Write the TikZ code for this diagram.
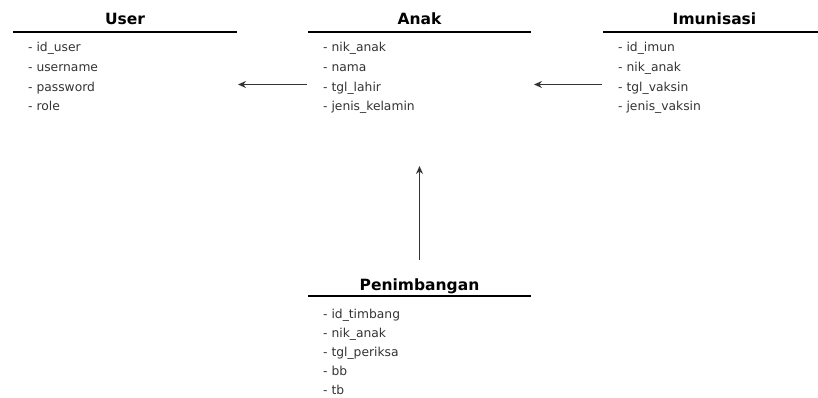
\documentclass[tikz,border=0pt]{standalone}
\usepackage{fontspec}
\setmainfont{DejaVu Sans}
\usetikzlibrary{arrows.meta}
\begin{document}
\begin{tikzpicture}[x=1pt,y=-1pt,
  classtitle/.style={font=\fontsize{15.5}{18}\selectfont\bfseries, anchor=base, inner sep=0pt},
  attr/.style={font=\fontsize{12.3}{14}\selectfont, anchor=base west, inner sep=0pt, text=black!80},
  rule/.style={line width=2pt},
  link/.style={line width=1.4pt, draw=black!80, -{Stealth[length=8pt,width=7pt]}}
]
\useasboundingbox (0,0) rectangle (818,398);

% User
\node[classtitle] (user) at (125,25) {User};
\coordinate (user-l) at (13,32);
\coordinate (user-r) at (237,32);
\draw[rule] (user-l) -- (user-r);
\node[attr] (user-1) at (28,52) {- id\_user};
\node[attr] (user-2) at (28,72) {- username};
\node[attr] (user-3) at (28,92) {- password};
\node[attr] (user-4) at (28,111) {- role};

% Anak
\node[classtitle] (anak) at (419.5,25) {Anak};
\coordinate (anak-l) at (308,32);
\coordinate (anak-r) at (531,32);
\draw[rule] (anak-l) -- (anak-r);
\node[attr] (anak-1) at (323,52) {- nik\_anak};
\node[attr] (anak-2) at (323,72) {- nama};
\node[attr] (anak-3) at (323,92) {- tgl\_lahir};
\node[attr] (anak-4) at (323,111) {- jenis\_kelamin};

% Imunisasi
\node[classtitle] (imun) at (714.5,25) {Imunisasi};
\coordinate (imun-l) at (603,32);
\coordinate (imun-r) at (826,32);
\draw[rule] (imun-l) -- (imun-r);
\node[attr] (imun-1) at (618,52) {- id\_imun};
\node[attr] (imun-2) at (618,72) {- nik\_anak};
\node[attr] (imun-3) at (618,92) {- tgl\_vaksin};
\node[attr] (imun-4) at (618,111) {- jenis\_vaksin};

% Penimbangan
\node[classtitle] (timb) at (419.5,290) {Penimbangan};
\coordinate (timb-l) at (308,296);
\coordinate (timb-r) at (531,296);
\draw[rule] (timb-l) -- (timb-r);
\node[attr] (timb-1) at (323,318) {- id\_timbang};
\node[attr] (timb-2) at (323,337) {- nik\_anak};
\node[attr] (timb-3) at (323,356) {- tgl\_periksa};
\node[attr] (timb-4) at (323,375) {- bb};
\node[attr] (timb-5) at (323,394) {- tb};

% Relations
\coordinate (anak-out) at (307,84.5);
\coordinate (user-in) at (238,84.5);
\coordinate (imun-out) at (602,84.5);
\coordinate (anak-in-r) at (534,84.5);
\coordinate (timb-out) at (419.5,260);
\coordinate (anak-in-b) at (419.5,166);
\draw[link] (anak-out) -- (user-in);
\draw[link] (imun-out) -- (anak-in-r);
\draw[link] (timb-out) -- (anak-in-b);
\end{tikzpicture}
\end{document}
